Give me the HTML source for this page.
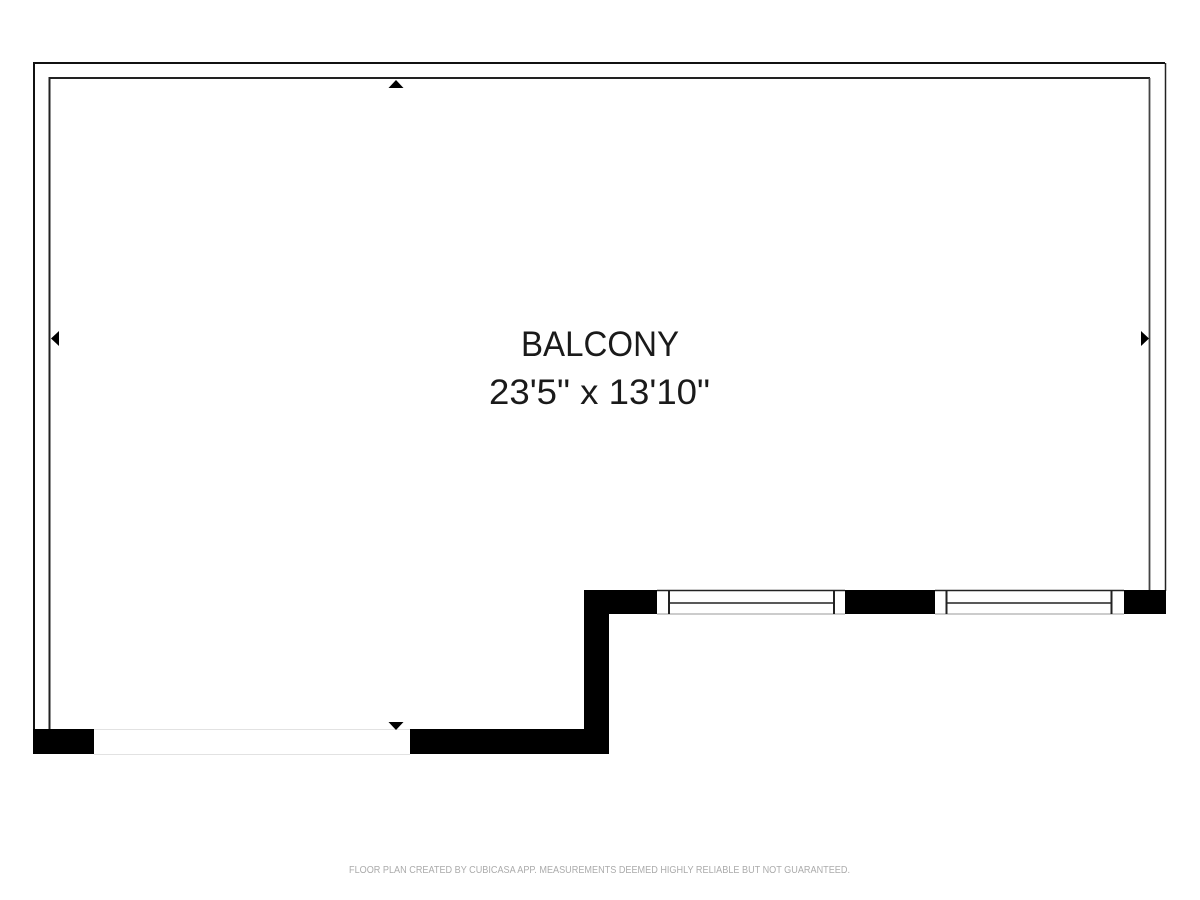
<!DOCTYPE html>
<html><head><meta charset="utf-8"><style>html,body{margin:0;padding:0;background:#fff}svg{display:block}</style></head>
<body>
<svg width="1200" height="900" viewBox="0 0 1200 900" xmlns="http://www.w3.org/2000/svg">
<rect width="1200" height="900" fill="#fff"/>
<!-- outer thin wall -->
<path d="M34 730V63H1165" fill="none" stroke="#111" stroke-width="2"/>
<path d="M1165.500 63V591" fill="none" stroke="#222" stroke-width="1.500"/>
<!-- inner thin wall -->
<path d="M49.500 730V78H1150" fill="none" stroke="#222" stroke-width="2"/>
<path d="M1149.500 78V591" fill="none" stroke="#444" stroke-width="1.800"/>
<!-- thick walls -->
<path d="M584 590H657V614H609V754H410V729H584Z" fill="#000"/>
<rect x="845" y="590" width="90" height="24" fill="#000"/>
<rect x="1124" y="590" width="42" height="24" fill="#000"/>
<rect x="33" y="729" width="61" height="25" fill="#000"/>
<!-- door opening -->
<path d="M94 729.500H410M94 754.500H410" stroke="#e2e2e2" stroke-width="1"/>
<!-- windows -->
<g fill="none" stroke="#222">
<path d="M657 590.500H845" stroke-width="1.500"/>
<path d="M657 614H845" stroke="#999" stroke-width="1"/>
<path d="M669 591V614M834 591V614" stroke-width="2"/>
<path d="M669 603H834" stroke-width="1.600"/>
<path d="M935 590.500H1124" stroke-width="1.500"/>
<path d="M935 614H1124" stroke="#999" stroke-width="1"/>
<path d="M946.500 591V614M1111.500 591V614" stroke-width="2"/>
<path d="M946.500 603H1111.500" stroke-width="1.600"/>
</g>
<!-- arrows -->
<g fill="#000">
<path d="M388.500 88L396 80L403.500 88Z"/>
<path d="M388.500 722H403.500L396 730Z"/>
<path d="M51 338.500L59 331V346Z"/>
<path d="M1149 338.500L1141 331V346Z"/>
</g>
<!-- labels -->
<g font-family="'Liberation Sans',sans-serif" text-anchor="middle" fill="#1a1a1a">
<text x="600" y="356" font-size="35" textLength="158" lengthAdjust="spacingAndGlyphs">BALCONY</text>
<text x="599.500" y="404" font-size="35" textLength="221" lengthAdjust="spacingAndGlyphs">23'5" x 13'10"</text>
<text x="599.500" y="873" font-size="10.500" fill="#ababab" textLength="501" lengthAdjust="spacingAndGlyphs">FLOOR PLAN CREATED BY CUBICASA APP. MEASUREMENTS DEEMED HIGHLY RELIABLE BUT NOT GUARANTEED.</text>
</g>
</svg>
</body></html>
